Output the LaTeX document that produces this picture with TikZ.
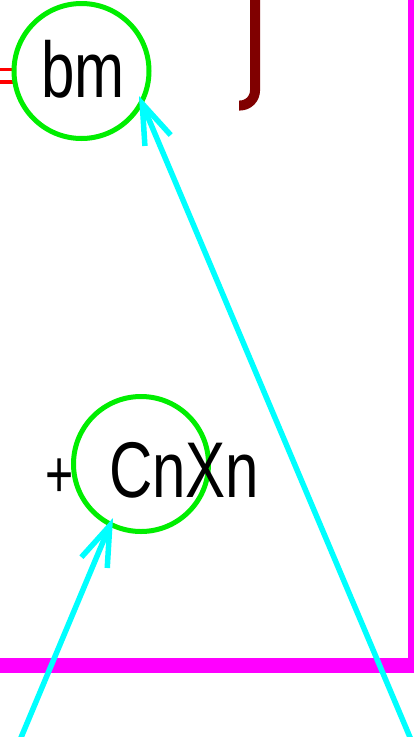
\documentclass[tikz,border=0pt]{standalone}
\usepackage{fontspec}
\setmainfont{Liberation Sans}
\usetikzlibrary{arrows.meta,calc}
\definecolor{cyanc}{RGB}{0,255,255}
\definecolor{greenc}{RGB}{0,238,0}
\definecolor{magc}{RGB}{255,0,255}
\definecolor{maroonc}{RGB}{128,0,0}
\definecolor{redc}{RGB}{255,0,0}
\begin{document}
\begin{tikzpicture}[x=1pt,y=-1pt,
  ring/.style={circle,draw=greenc,line width=5pt,minimum size=135pt,inner sep=0pt},
  lbl/.style={inner sep=0pt,font=\fontsize{79}{90}\selectfont},
  arr/.style={draw=cyanc,line width=5.5pt,-{Straight Barb[length=40pt,width=28pt]}},
  magline/.style={draw=magc},
  redline/.style={draw=redc,line width=3.5pt,double=white,double distance=9pt},
  jline/.style={draw=maroonc,line width=10pt,rounded corners=15pt}
]
\useasboundingbox (0,0) rectangle (414,737);
\clip (0,0) rectangle (414,737);
\fill[white] (0,0) rectangle (414,737);
% magenta frame
\coordinate (m1) at (411,-10);
\coordinate (m2) at (411,665.5);
\coordinate (h1) at (-10,665.5);
\coordinate (h2) at (420,665.5);
\draw[magline,line width=6pt] (m1) -- (m2);
\draw[magline,line width=15pt] (h1) -- (h2);
% maroon hook
\coordinate (j1) at (255,-10);
\coordinate (j2) at (239,105.5);
\draw[jline] (j1) |- (j2);
% red double stub
\coordinate (rl) at (-10,75.8);
\draw[redline] (rl) -- (rl -| 13,0);
% circles and labels
\node[ring] (bmc) at (81.5,71) {};
\node[lbl,anchor=base west] (bm) at (41,97) {\scalebox{0.76}[1]{bm}};
\node[ring] (cnc) at (141,464) {};
\node[lbl,anchor=base west] (cn) at (109,497) {\scalebox{0.76}[1]{CnXn}};
\node[inner sep=0pt,font=\fontsize{67}{80}\selectfont] (plus) at (60,478) {\scalebox{0.72}[1]{+}};
% cyan arrows
\coordinate (a1s) at (412,742);
\coordinate (a1t) at (139,96);
\coordinate (a2s) at (20,740);
\coordinate (a2t) at (113,518);
\draw[arr] (a1s) -- (a1t);
\draw[arr] (a2s) -- (a2t);
\end{tikzpicture}
\end{document}
